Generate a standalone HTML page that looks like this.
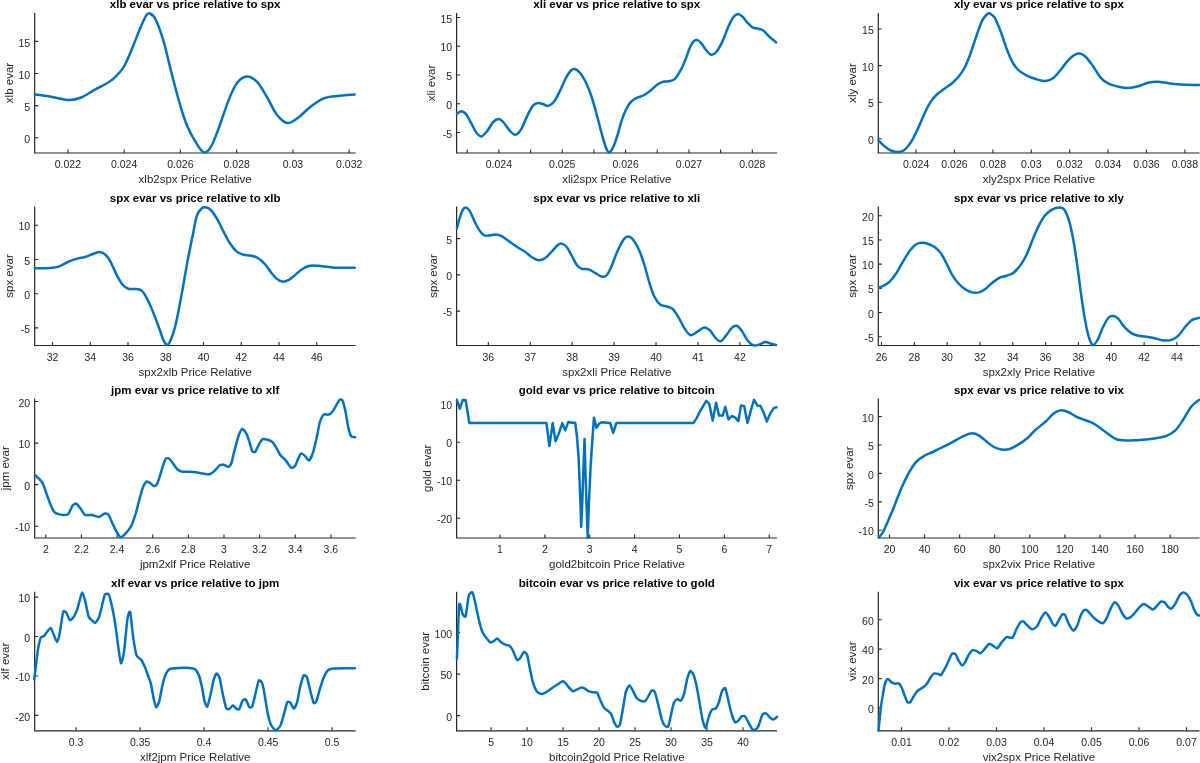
<!DOCTYPE html><html><head><meta charset="utf-8"><style>html,body{margin:0;padding:0;background:#fff;width:1200px;height:763px;overflow:hidden}svg{display:block;will-change:transform}text{font-family:"Liberation Sans",sans-serif}</style></head><body>
<svg width="1200" height="763" viewBox="0 0 1200 763">
<path d="M34.65,13.00 V153.00 H355.70" fill="none" stroke="#262626" stroke-width="1.2"/>
<path d="M67.90,153.00 v-3.5 M124.16,153.00 v-3.5 M180.42,153.00 v-3.5 M236.68,153.00 v-3.5 M292.94,153.00 v-3.5 M349.20,153.00 v-3.5 M34.65,137.70 h3.5 M34.65,105.60 h3.5 M34.65,73.50 h3.5 M34.65,41.40 h3.5 " stroke="#262626" stroke-width="1.1"/>
<text x="67.90" y="168.30" font-size="10.5" fill="#262626" text-anchor="middle">0.022</text>
<text x="124.16" y="168.30" font-size="10.5" fill="#262626" text-anchor="middle">0.024</text>
<text x="180.42" y="168.30" font-size="10.5" fill="#262626" text-anchor="middle">0.026</text>
<text x="236.68" y="168.30" font-size="10.5" fill="#262626" text-anchor="middle">0.028</text>
<text x="292.94" y="168.30" font-size="10.5" fill="#262626" text-anchor="middle">0.03</text>
<text x="349.20" y="168.30" font-size="10.5" fill="#262626" text-anchor="middle">0.032</text>
<text x="30.15" y="142.80" font-size="10.5" fill="#262626" text-anchor="end">0</text>
<text x="30.15" y="110.70" font-size="10.5" fill="#262626" text-anchor="end">5</text>
<text x="30.15" y="78.60" font-size="10.5" fill="#262626" text-anchor="end">10</text>
<text x="30.15" y="46.50" font-size="10.5" fill="#262626" text-anchor="end">15</text>
<text x="195.17" y="183.40" font-size="11.5" fill="#262626" text-anchor="middle">xlb2spx Price Relative</text>
<text transform="translate(12.75,83.00) rotate(-90)" font-size="11.5" fill="#262626" text-anchor="middle">xlb evar</text>
<path d="M34.90,94.50 C37.37,94.83 43.97,95.58 49.70,96.50 C55.43,97.42 64.07,99.83 69.30,100.00 C74.53,100.17 76.83,99.23 81.10,97.50 C85.37,95.77 90.32,92.13 94.90,89.60 C99.48,87.07 105.00,84.60 108.60,82.30 C112.20,80.00 113.88,78.52 116.50,75.80 C119.12,73.08 121.68,70.58 124.30,66.00 C126.92,61.42 129.58,54.52 132.20,48.30 C134.82,42.08 137.70,34.10 140.00,28.70 C142.30,23.30 144.35,18.43 146.00,15.90 C147.65,13.37 148.27,12.85 149.90,13.50 C151.53,14.15 153.52,15.15 155.80,19.80 C158.08,24.45 160.98,32.55 163.60,41.40 C166.22,50.25 168.87,62.73 171.50,72.90 C174.13,83.07 176.78,93.55 179.40,102.40 C182.02,111.25 184.12,118.80 187.20,126.00 C190.28,133.20 194.98,141.18 197.90,145.60 C200.82,150.02 202.42,152.50 204.70,152.50 C206.98,152.50 209.13,150.02 211.60,145.60 C214.07,141.18 216.55,133.87 219.50,126.00 C222.45,118.13 226.35,105.62 229.30,98.40 C232.25,91.18 234.25,86.37 237.20,82.70 C240.15,79.03 243.73,76.57 247.00,76.40 C250.27,76.23 253.52,78.35 256.80,81.70 C260.08,85.05 263.42,91.08 266.70,96.50 C269.98,101.92 273.07,109.78 276.50,114.20 C279.93,118.62 283.70,122.42 287.30,123.00 C290.90,123.58 294.33,120.32 298.10,117.70 C301.87,115.08 305.65,110.52 309.90,107.30 C314.15,104.08 319.02,100.30 323.60,98.40 C328.18,96.50 332.22,96.55 337.40,95.90 C342.58,95.25 351.82,94.73 354.70,94.50" fill="none" stroke="#0072BD" stroke-width="2.5" stroke-linejoin="round" stroke-linecap="round"/>
<text x="195.17" y="8.20" font-size="11.5" font-weight="bold" fill="#000" text-anchor="middle">xlb evar vs price relative to spx</text>
<path d="M456.60,13.00 V153.00 H777.00" fill="none" stroke="#262626" stroke-width="1.2"/>
<path d="M467.22,153.00 v-3.5 M498.90,153.00 v-3.5 M530.58,153.00 v-3.5 M562.25,153.00 v-3.5 M593.93,153.00 v-3.5 M625.60,153.00 v-3.5 M657.27,153.00 v-3.5 M688.95,153.00 v-3.5 M720.62,153.00 v-3.5 M752.30,153.00 v-3.5 M456.60,132.50 h3.5 M456.60,103.75 h3.5 M456.60,75.00 h3.5 M456.60,46.25 h3.5 M456.60,17.50 h3.5 " stroke="#262626" stroke-width="1.1"/>
<text x="498.90" y="168.30" font-size="10.5" fill="#262626" text-anchor="middle">0.024</text>
<text x="562.25" y="168.30" font-size="10.5" fill="#262626" text-anchor="middle">0.025</text>
<text x="625.60" y="168.30" font-size="10.5" fill="#262626" text-anchor="middle">0.026</text>
<text x="688.95" y="168.30" font-size="10.5" fill="#262626" text-anchor="middle">0.027</text>
<text x="752.30" y="168.30" font-size="10.5" fill="#262626" text-anchor="middle">0.028</text>
<text x="452.10" y="137.60" font-size="10.5" fill="#262626" text-anchor="end">-5</text>
<text x="452.10" y="108.85" font-size="10.5" fill="#262626" text-anchor="end">0</text>
<text x="452.10" y="80.10" font-size="10.5" fill="#262626" text-anchor="end">5</text>
<text x="452.10" y="51.35" font-size="10.5" fill="#262626" text-anchor="end">10</text>
<text x="452.10" y="22.60" font-size="10.5" fill="#262626" text-anchor="end">15</text>
<text x="616.80" y="183.40" font-size="11.5" fill="#262626" text-anchor="middle">xli2spx Price Relative</text>
<text transform="translate(434.70,83.00) rotate(-90)" font-size="11.5" fill="#262626" text-anchor="middle">xli evar</text>
<path d="M456.90,113.80 C457.72,113.37 460.17,110.98 461.80,111.20 C463.43,111.42 465.07,112.97 466.70,115.10 C468.33,117.23 469.97,121.05 471.60,124.00 C473.23,126.95 474.87,130.73 476.50,132.80 C478.13,134.87 479.60,136.72 481.40,136.40 C483.20,136.08 485.33,133.30 487.30,130.90 C489.27,128.50 491.23,123.97 493.20,122.00 C495.17,120.03 497.30,118.93 499.10,119.10 C500.90,119.27 502.20,121.03 504.00,123.00 C505.80,124.97 508.00,128.93 509.90,130.90 C511.80,132.87 513.58,134.97 515.40,134.80 C517.22,134.63 518.92,132.85 520.80,129.90 C522.68,126.95 524.75,121.03 526.70,117.10 C528.65,113.17 530.70,108.65 532.50,106.30 C534.30,103.95 535.68,103.33 537.50,103.00 C539.32,102.67 541.60,103.82 543.40,104.30 C545.20,104.78 546.50,106.38 548.30,105.90 C550.10,105.42 552.23,103.95 554.20,101.40 C556.17,98.85 558.13,94.53 560.10,90.60 C562.07,86.67 564.20,81.15 566.00,77.80 C567.80,74.45 569.43,71.97 570.90,70.50 C572.37,69.03 573.33,68.67 574.80,69.00 C576.27,69.33 577.90,70.38 579.70,72.50 C581.50,74.62 583.63,77.70 585.60,81.70 C587.57,85.70 589.53,90.60 591.50,96.50 C593.47,102.40 595.60,110.55 597.40,117.10 C599.20,123.65 600.82,130.55 602.30,135.80 C603.78,141.05 605.08,145.83 606.30,148.60 C607.52,151.37 608.33,152.90 609.60,152.40 C610.87,151.90 612.52,148.70 613.90,145.60 C615.28,142.50 616.58,138.05 617.90,133.80 C619.22,129.55 620.50,124.03 621.80,120.10 C623.10,116.17 624.38,112.98 625.70,110.20 C627.02,107.42 628.05,105.37 629.70,103.40 C631.35,101.43 633.32,99.72 635.60,98.40 C637.88,97.08 641.12,96.63 643.40,95.50 C645.68,94.37 647.00,93.40 649.30,91.60 C651.60,89.80 654.90,86.35 657.20,84.70 C659.50,83.05 661.13,82.27 663.10,81.70 C665.07,81.13 667.03,81.78 669.00,81.30 C670.97,80.82 672.93,80.70 674.90,78.80 C676.87,76.90 679.00,73.18 680.80,69.90 C682.60,66.62 684.23,62.70 685.70,59.10 C687.17,55.50 688.30,51.25 689.60,48.30 C690.90,45.35 692.18,42.77 693.50,41.40 C694.82,40.03 696.18,39.77 697.50,40.10 C698.82,40.43 699.93,41.70 701.40,43.40 C702.87,45.10 704.67,48.40 706.30,50.30 C707.93,52.20 709.57,54.47 711.20,54.80 C712.83,55.13 714.30,54.37 716.10,52.30 C717.90,50.23 720.03,46.50 722.00,42.40 C723.97,38.30 726.10,31.78 727.90,27.70 C729.70,23.62 731.15,20.20 732.80,17.90 C734.45,15.60 736.15,14.07 737.80,13.90 C739.45,13.73 741.07,15.42 742.70,16.90 C744.33,18.38 745.97,21.07 747.60,22.80 C749.23,24.53 750.70,26.32 752.50,27.30 C754.30,28.28 756.60,28.15 758.40,28.70 C760.20,29.25 761.50,29.30 763.30,30.60 C765.10,31.90 767.07,34.53 769.20,36.50 C771.33,38.47 774.95,41.42 776.10,42.40" fill="none" stroke="#0072BD" stroke-width="2.5" stroke-linejoin="round" stroke-linecap="round"/>
<text x="616.80" y="8.20" font-size="11.5" font-weight="bold" fill="#000" text-anchor="middle">xli evar vs price relative to spx</text>
<path d="M878.30,13.00 V153.00 H1199.50" fill="none" stroke="#262626" stroke-width="1.2"/>
<path d="M916.10,153.00 v-3.5 M954.50,153.00 v-3.5 M992.90,153.00 v-3.5 M1031.30,153.00 v-3.5 M1069.70,153.00 v-3.5 M1108.10,153.00 v-3.5 M1146.50,153.00 v-3.5 M1184.90,153.00 v-3.5 M878.30,138.80 h3.5 M878.30,102.20 h3.5 M878.30,65.60 h3.5 M878.30,29.00 h3.5 " stroke="#262626" stroke-width="1.1"/>
<text x="916.10" y="168.30" font-size="10.5" fill="#262626" text-anchor="middle">0.024</text>
<text x="954.50" y="168.30" font-size="10.5" fill="#262626" text-anchor="middle">0.026</text>
<text x="992.90" y="168.30" font-size="10.5" fill="#262626" text-anchor="middle">0.028</text>
<text x="1031.30" y="168.30" font-size="10.5" fill="#262626" text-anchor="middle">0.03</text>
<text x="1069.70" y="168.30" font-size="10.5" fill="#262626" text-anchor="middle">0.032</text>
<text x="1108.10" y="168.30" font-size="10.5" fill="#262626" text-anchor="middle">0.034</text>
<text x="1146.50" y="168.30" font-size="10.5" fill="#262626" text-anchor="middle">0.036</text>
<text x="1184.90" y="168.30" font-size="10.5" fill="#262626" text-anchor="middle">0.038</text>
<text x="873.80" y="143.90" font-size="10.5" fill="#262626" text-anchor="end">0</text>
<text x="873.80" y="107.30" font-size="10.5" fill="#262626" text-anchor="end">5</text>
<text x="873.80" y="70.70" font-size="10.5" fill="#262626" text-anchor="end">10</text>
<text x="873.80" y="34.10" font-size="10.5" fill="#262626" text-anchor="end">15</text>
<text x="1038.90" y="183.40" font-size="11.5" fill="#262626" text-anchor="middle">xly2spx Price Relative</text>
<text transform="translate(856.40,83.00) rotate(-90)" font-size="11.5" fill="#262626" text-anchor="middle">xly evar</text>
<path d="M878.50,140.30 C879.38,141.18 881.77,143.90 883.80,145.60 C885.83,147.30 888.40,149.42 890.70,150.50 C893.00,151.58 895.32,152.20 897.60,152.10 C899.88,152.00 902.12,151.63 904.40,149.90 C906.68,148.17 909.00,145.37 911.30,141.70 C913.60,138.03 915.90,132.82 918.20,127.90 C920.50,122.98 922.97,116.62 925.10,112.20 C927.23,107.78 929.03,104.35 931.00,101.40 C932.97,98.45 934.62,96.63 936.90,94.50 C939.18,92.37 942.08,90.57 944.70,88.60 C947.32,86.63 950.30,84.67 952.60,82.70 C954.90,80.73 956.53,79.25 958.50,76.80 C960.47,74.35 962.43,71.77 964.40,68.00 C966.37,64.23 968.33,59.45 970.30,54.20 C972.27,48.95 974.23,42.07 976.20,36.50 C978.17,30.93 980.30,24.50 982.10,20.80 C983.90,17.10 985.70,15.52 987.00,14.30 C988.30,13.08 988.60,12.90 989.90,13.50 C991.20,14.10 993.00,14.88 994.80,17.90 C996.60,20.92 998.57,26.03 1000.70,31.60 C1002.83,37.17 1005.47,45.90 1007.60,51.30 C1009.73,56.70 1011.53,60.73 1013.50,64.00 C1015.47,67.27 1017.10,68.93 1019.40,70.90 C1021.70,72.87 1024.68,74.48 1027.30,75.80 C1029.92,77.12 1032.03,77.92 1035.10,78.80 C1038.17,79.68 1042.62,81.27 1045.70,81.10 C1048.78,80.93 1050.98,79.82 1053.60,77.80 C1056.22,75.78 1058.78,72.12 1061.40,69.00 C1064.02,65.88 1066.50,61.67 1069.30,59.10 C1072.10,56.53 1075.58,54.08 1078.20,53.60 C1080.82,53.12 1082.55,54.13 1085.00,56.20 C1087.45,58.27 1090.27,62.40 1092.90,66.00 C1095.53,69.60 1098.18,74.85 1100.80,77.80 C1103.42,80.75 1105.67,82.22 1108.60,83.70 C1111.53,85.18 1115.12,85.98 1118.40,86.70 C1121.68,87.42 1125.02,88.07 1128.30,88.00 C1131.58,87.93 1134.83,87.18 1138.10,86.30 C1141.37,85.42 1144.62,83.47 1147.90,82.70 C1151.18,81.93 1154.52,81.63 1157.80,81.70 C1161.08,81.77 1164.33,82.67 1167.60,83.10 C1170.87,83.53 1174.13,84.03 1177.40,84.30 C1180.67,84.57 1183.60,84.60 1187.20,84.70 C1190.80,84.80 1197.03,84.87 1199.00,84.90" fill="none" stroke="#0072BD" stroke-width="2.5" stroke-linejoin="round" stroke-linecap="round"/>
<text x="1038.90" y="8.20" font-size="11.5" font-weight="bold" fill="#000" text-anchor="middle">xly evar vs price relative to spx</text>
<path d="M34.65,206.50 V345.50 H355.70" fill="none" stroke="#262626" stroke-width="1.2"/>
<path d="M52.50,345.50 v-3.5 M90.25,345.50 v-3.5 M128.00,345.50 v-3.5 M165.75,345.50 v-3.5 M203.50,345.50 v-3.5 M241.25,345.50 v-3.5 M279.00,345.50 v-3.5 M316.75,345.50 v-3.5 M34.65,327.90 h3.5 M34.65,293.68 h3.5 M34.65,259.47 h3.5 M34.65,225.25 h3.5 " stroke="#262626" stroke-width="1.1"/>
<text x="52.50" y="360.80" font-size="10.5" fill="#262626" text-anchor="middle">32</text>
<text x="90.25" y="360.80" font-size="10.5" fill="#262626" text-anchor="middle">34</text>
<text x="128.00" y="360.80" font-size="10.5" fill="#262626" text-anchor="middle">36</text>
<text x="165.75" y="360.80" font-size="10.5" fill="#262626" text-anchor="middle">38</text>
<text x="203.50" y="360.80" font-size="10.5" fill="#262626" text-anchor="middle">40</text>
<text x="241.25" y="360.80" font-size="10.5" fill="#262626" text-anchor="middle">42</text>
<text x="279.00" y="360.80" font-size="10.5" fill="#262626" text-anchor="middle">44</text>
<text x="316.75" y="360.80" font-size="10.5" fill="#262626" text-anchor="middle">46</text>
<text x="30.15" y="333.00" font-size="10.5" fill="#262626" text-anchor="end">-5</text>
<text x="30.15" y="298.78" font-size="10.5" fill="#262626" text-anchor="end">0</text>
<text x="30.15" y="264.57" font-size="10.5" fill="#262626" text-anchor="end">5</text>
<text x="30.15" y="230.35" font-size="10.5" fill="#262626" text-anchor="end">10</text>
<text x="195.17" y="375.90" font-size="11.5" fill="#262626" text-anchor="middle">spx2xlb Price Relative</text>
<text transform="translate(12.75,276.00) rotate(-90)" font-size="11.5" fill="#262626" text-anchor="middle">spx evar</text>
<path d="M34.90,268.20 C36.38,268.20 40.85,268.27 43.80,268.20 C46.75,268.13 49.82,268.20 52.60,267.80 C55.38,267.40 57.72,266.88 60.50,265.80 C63.28,264.72 66.52,262.50 69.30,261.30 C72.08,260.10 74.58,259.32 77.20,258.60 C79.82,257.88 82.38,257.77 85.00,257.00 C87.62,256.23 90.43,254.82 92.90,254.00 C95.37,253.18 97.67,251.93 99.80,252.10 C101.93,252.27 103.90,253.37 105.70,255.00 C107.50,256.63 108.80,258.62 110.60,261.90 C112.40,265.18 114.53,270.93 116.50,274.70 C118.47,278.47 120.43,282.15 122.40,284.50 C124.37,286.85 126.02,288.05 128.30,288.80 C130.58,289.55 133.82,288.67 136.10,289.00 C138.38,289.33 140.03,288.93 142.00,290.80 C143.97,292.67 145.93,296.35 147.90,300.20 C149.87,304.05 151.83,308.98 153.80,313.90 C155.77,318.82 158.07,325.27 159.70,329.70 C161.33,334.13 162.38,337.95 163.60,340.50 C164.82,343.05 165.85,345.00 167.00,345.00 C168.15,345.00 169.10,343.70 170.50,340.50 C171.90,337.30 173.60,333.17 175.40,325.80 C177.20,318.43 179.33,306.78 181.30,296.30 C183.27,285.82 185.23,273.38 187.20,262.90 C189.17,252.42 191.48,241.27 193.10,233.40 C194.72,225.53 195.45,219.88 196.90,215.70 C198.35,211.52 200.17,209.67 201.80,208.30 C203.43,206.93 205.07,207.08 206.70,207.50 C208.33,207.92 209.80,208.77 211.60,210.80 C213.40,212.83 215.53,216.27 217.50,219.70 C219.47,223.13 221.43,227.63 223.40,231.40 C225.37,235.17 227.17,239.02 229.30,242.30 C231.43,245.58 233.90,249.05 236.20,251.10 C238.50,253.15 240.65,253.85 243.10,254.60 C245.55,255.35 248.45,255.03 250.90,255.60 C253.35,256.17 255.50,256.62 257.80,258.00 C260.10,259.38 262.57,261.62 264.70,263.90 C266.83,266.18 268.63,269.25 270.60,271.70 C272.57,274.15 274.53,276.95 276.50,278.60 C278.47,280.25 280.43,281.33 282.40,281.60 C284.37,281.87 286.33,281.18 288.30,280.20 C290.27,279.22 291.92,277.53 294.20,275.70 C296.48,273.87 299.38,270.85 302.00,269.20 C304.62,267.55 307.27,266.37 309.90,265.80 C312.53,265.23 314.85,265.63 317.80,265.80 C320.75,265.97 324.33,266.47 327.60,266.80 C330.87,267.13 334.13,267.63 337.40,267.80 C340.67,267.97 344.32,267.80 347.20,267.80 C350.08,267.80 353.45,267.80 354.70,267.80" fill="none" stroke="#0072BD" stroke-width="2.5" stroke-linejoin="round" stroke-linecap="round"/>
<text x="195.17" y="201.70" font-size="11.5" font-weight="bold" fill="#000" text-anchor="middle">spx evar vs price relative to xlb</text>
<path d="M456.60,206.50 V345.50 H777.00" fill="none" stroke="#262626" stroke-width="1.2"/>
<path d="M488.30,345.50 v-3.5 M530.23,345.50 v-3.5 M572.17,345.50 v-3.5 M614.10,345.50 v-3.5 M656.03,345.50 v-3.5 M697.97,345.50 v-3.5 M739.90,345.50 v-3.5 M456.60,311.10 h3.5 M456.60,274.88 h3.5 M456.60,238.65 h3.5 " stroke="#262626" stroke-width="1.1"/>
<text x="488.30" y="360.80" font-size="10.5" fill="#262626" text-anchor="middle">36</text>
<text x="530.23" y="360.80" font-size="10.5" fill="#262626" text-anchor="middle">37</text>
<text x="572.17" y="360.80" font-size="10.5" fill="#262626" text-anchor="middle">38</text>
<text x="614.10" y="360.80" font-size="10.5" fill="#262626" text-anchor="middle">39</text>
<text x="656.03" y="360.80" font-size="10.5" fill="#262626" text-anchor="middle">40</text>
<text x="697.97" y="360.80" font-size="10.5" fill="#262626" text-anchor="middle">41</text>
<text x="739.90" y="360.80" font-size="10.5" fill="#262626" text-anchor="middle">42</text>
<text x="452.10" y="316.20" font-size="10.5" fill="#262626" text-anchor="end">-5</text>
<text x="452.10" y="279.98" font-size="10.5" fill="#262626" text-anchor="end">0</text>
<text x="452.10" y="243.75" font-size="10.5" fill="#262626" text-anchor="end">5</text>
<text x="616.80" y="375.90" font-size="11.5" fill="#262626" text-anchor="middle">spx2xli Price Relative</text>
<text transform="translate(437.04,276.00) rotate(-90)" font-size="11.5" fill="#262626" text-anchor="middle">spx evar</text>
<path d="M456.90,228.50 C457.38,226.70 458.82,220.82 459.80,217.70 C460.78,214.58 461.82,211.50 462.80,209.80 C463.78,208.10 464.55,207.33 465.70,207.50 C466.85,207.67 468.22,208.45 469.70,210.80 C471.18,213.15 472.97,218.32 474.60,221.60 C476.23,224.88 477.87,228.20 479.50,230.50 C481.13,232.80 482.77,234.58 484.40,235.40 C486.03,236.22 487.33,235.57 489.30,235.40 C491.27,235.23 494.07,234.23 496.20,234.40 C498.33,234.57 499.97,235.25 502.10,236.40 C504.23,237.55 506.55,239.57 509.00,241.30 C511.45,243.03 514.18,245.10 516.80,246.80 C519.42,248.50 522.23,249.80 524.70,251.50 C527.17,253.20 529.32,255.53 531.60,257.00 C533.88,258.47 536.12,260.13 538.40,260.30 C540.68,260.47 543.00,259.53 545.30,258.00 C547.60,256.47 550.07,253.30 552.20,251.10 C554.33,248.90 556.47,246.05 558.10,244.80 C559.73,243.55 560.53,243.20 562.00,243.60 C563.47,244.00 565.25,245.13 566.90,247.20 C568.55,249.27 570.25,253.05 571.90,256.00 C573.55,258.95 575.17,262.77 576.80,264.90 C578.43,267.03 579.73,268.05 581.70,268.80 C583.67,269.55 586.32,268.68 588.60,269.40 C590.88,270.12 593.12,271.88 595.40,273.10 C597.68,274.32 600.33,276.43 602.30,276.70 C604.27,276.97 605.57,276.67 607.20,274.70 C608.83,272.73 610.45,268.67 612.10,264.90 C613.75,261.13 615.15,256.37 617.10,252.10 C619.05,247.83 621.87,241.92 623.80,239.30 C625.73,236.68 627.07,236.23 628.70,236.40 C630.33,236.57 631.80,237.85 633.60,240.30 C635.40,242.75 637.70,247.00 639.50,251.10 C641.30,255.20 642.77,259.67 644.40,264.90 C646.03,270.13 647.67,277.27 649.30,282.50 C650.93,287.73 652.40,292.62 654.20,296.30 C656.00,299.98 657.97,302.90 660.10,304.60 C662.23,306.30 664.87,305.75 667.00,306.50 C669.13,307.25 670.93,307.20 672.90,309.10 C674.87,311.00 676.83,314.63 678.80,317.90 C680.77,321.17 682.73,325.82 684.70,328.70 C686.67,331.58 688.47,334.70 690.60,335.20 C692.73,335.70 695.22,333.00 697.50,331.70 C699.78,330.40 702.18,327.57 704.30,327.40 C706.42,327.23 708.23,328.83 710.20,330.70 C712.17,332.57 714.30,336.87 716.10,338.60 C717.90,340.33 719.35,341.60 721.00,341.10 C722.65,340.60 724.18,337.82 726.00,335.60 C727.82,333.38 730.10,329.43 731.90,327.80 C733.70,326.17 735.17,325.32 736.80,325.80 C738.43,326.28 739.90,328.25 741.70,330.70 C743.50,333.15 745.63,338.05 747.60,340.50 C749.57,342.95 751.53,344.73 753.50,345.40 C755.47,346.07 757.43,345.08 759.40,344.50 C761.37,343.92 763.50,342.07 765.30,341.90 C767.10,341.73 768.40,342.98 770.20,343.50 C772.00,344.02 775.12,344.75 776.10,345.00" fill="none" stroke="#0072BD" stroke-width="2.5" stroke-linejoin="round" stroke-linecap="round"/>
<text x="616.80" y="201.70" font-size="11.5" font-weight="bold" fill="#000" text-anchor="middle">spx evar vs price relative to xli</text>
<path d="M878.30,206.50 V345.50 H1199.50" fill="none" stroke="#262626" stroke-width="1.2"/>
<path d="M881.50,345.50 v-3.5 M914.32,345.50 v-3.5 M947.14,345.50 v-3.5 M979.97,345.50 v-3.5 M1012.79,345.50 v-3.5 M1045.61,345.50 v-3.5 M1078.43,345.50 v-3.5 M1111.26,345.50 v-3.5 M1144.08,345.50 v-3.5 M1176.90,345.50 v-3.5 M878.30,336.70 h3.5 M878.30,312.52 h3.5 M878.30,288.34 h3.5 M878.30,264.16 h3.5 M878.30,239.98 h3.5 M878.30,215.80 h3.5 " stroke="#262626" stroke-width="1.1"/>
<text x="881.50" y="360.80" font-size="10.5" fill="#262626" text-anchor="middle">26</text>
<text x="914.32" y="360.80" font-size="10.5" fill="#262626" text-anchor="middle">28</text>
<text x="947.14" y="360.80" font-size="10.5" fill="#262626" text-anchor="middle">30</text>
<text x="979.97" y="360.80" font-size="10.5" fill="#262626" text-anchor="middle">32</text>
<text x="1012.79" y="360.80" font-size="10.5" fill="#262626" text-anchor="middle">34</text>
<text x="1045.61" y="360.80" font-size="10.5" fill="#262626" text-anchor="middle">36</text>
<text x="1078.43" y="360.80" font-size="10.5" fill="#262626" text-anchor="middle">38</text>
<text x="1111.26" y="360.80" font-size="10.5" fill="#262626" text-anchor="middle">40</text>
<text x="1144.08" y="360.80" font-size="10.5" fill="#262626" text-anchor="middle">42</text>
<text x="1176.90" y="360.80" font-size="10.5" fill="#262626" text-anchor="middle">44</text>
<text x="873.80" y="341.80" font-size="10.5" fill="#262626" text-anchor="end">-5</text>
<text x="873.80" y="317.62" font-size="10.5" fill="#262626" text-anchor="end">0</text>
<text x="873.80" y="293.44" font-size="10.5" fill="#262626" text-anchor="end">5</text>
<text x="873.80" y="269.26" font-size="10.5" fill="#262626" text-anchor="end">10</text>
<text x="873.80" y="245.08" font-size="10.5" fill="#262626" text-anchor="end">15</text>
<text x="873.80" y="220.90" font-size="10.5" fill="#262626" text-anchor="end">20</text>
<text x="1038.90" y="375.90" font-size="11.5" fill="#262626" text-anchor="middle">spx2xly Price Relative</text>
<text transform="translate(856.40,276.00) rotate(-90)" font-size="11.5" fill="#262626" text-anchor="middle">spx evar</text>
<path d="M878.90,287.90 C879.72,287.50 882.00,286.55 883.80,285.50 C885.60,284.45 887.57,283.73 889.70,281.60 C891.83,279.47 894.32,276.15 896.60,272.70 C898.88,269.25 901.12,264.67 903.40,260.90 C905.68,257.13 908.17,252.88 910.30,250.10 C912.43,247.32 914.23,245.42 916.20,244.20 C918.17,242.98 919.97,242.80 922.10,242.80 C924.23,242.80 926.87,243.47 929.00,244.20 C931.13,244.93 932.93,245.72 934.90,247.20 C936.87,248.68 938.83,250.32 940.80,253.10 C942.77,255.88 944.73,260.13 946.70,263.90 C948.67,267.67 950.63,272.43 952.60,275.70 C954.57,278.97 956.37,281.22 958.50,283.50 C960.63,285.78 963.12,287.92 965.40,289.40 C967.68,290.88 969.92,291.90 972.20,292.40 C974.48,292.90 976.80,293.07 979.10,292.40 C981.40,291.73 983.70,290.10 986.00,288.40 C988.30,286.70 990.60,284.00 992.90,282.20 C995.20,280.40 997.52,278.68 999.80,277.60 C1002.08,276.52 1004.32,276.52 1006.60,275.70 C1008.88,274.88 1011.03,274.67 1013.50,272.70 C1015.97,270.73 1019.10,267.17 1021.40,263.90 C1023.70,260.63 1025.28,257.50 1027.30,253.10 C1029.32,248.70 1031.58,242.08 1033.50,237.50 C1035.42,232.92 1036.93,229.23 1038.80,225.60 C1040.67,221.97 1042.57,218.33 1044.70,215.70 C1046.83,213.07 1049.13,211.17 1051.60,209.80 C1054.07,208.43 1057.37,207.50 1059.50,207.50 C1061.63,207.50 1062.77,207.45 1064.40,209.80 C1066.03,212.15 1067.83,216.68 1069.30,221.60 C1070.77,226.52 1071.88,232.08 1073.20,239.30 C1074.52,246.52 1075.88,255.73 1077.20,264.90 C1078.52,274.07 1079.80,285.13 1081.10,294.30 C1082.40,303.47 1083.68,312.68 1085.00,319.90 C1086.32,327.12 1087.68,333.42 1089.00,337.60 C1090.32,341.78 1091.43,344.68 1092.90,345.00 C1094.37,345.32 1096.17,342.37 1097.80,339.50 C1099.43,336.63 1100.90,331.47 1102.70,327.80 C1104.50,324.13 1106.80,319.47 1108.60,317.50 C1110.40,315.53 1111.87,315.77 1113.50,316.00 C1115.13,316.23 1116.60,317.10 1118.40,318.90 C1120.20,320.70 1122.00,324.35 1124.30,326.80 C1126.60,329.25 1129.57,332.07 1132.20,333.60 C1134.83,335.13 1137.48,335.43 1140.10,336.00 C1142.72,336.57 1145.28,336.57 1147.90,337.00 C1150.52,337.43 1153.18,338.02 1155.80,338.60 C1158.42,339.18 1160.98,340.28 1163.60,340.50 C1166.22,340.72 1169.03,340.72 1171.50,339.90 C1173.97,339.08 1176.10,337.78 1178.40,335.60 C1180.70,333.42 1183.02,329.42 1185.30,326.80 C1187.58,324.18 1189.82,321.38 1192.10,319.90 C1194.38,318.42 1197.85,318.23 1199.00,317.90" fill="none" stroke="#0072BD" stroke-width="2.5" stroke-linejoin="round" stroke-linecap="round"/>
<text x="1038.90" y="201.70" font-size="11.5" font-weight="bold" fill="#000" text-anchor="middle">spx evar vs price relative to xly</text>
<path d="M34.65,398.50 V538.00 H355.70" fill="none" stroke="#262626" stroke-width="1.2"/>
<path d="M45.80,538.00 v-3.5 M81.44,538.00 v-3.5 M117.07,538.00 v-3.5 M152.71,538.00 v-3.5 M188.35,538.00 v-3.5 M223.99,538.00 v-3.5 M259.62,538.00 v-3.5 M295.26,538.00 v-3.5 M330.90,538.00 v-3.5 M34.65,526.25 h3.5 M34.65,484.67 h3.5 M34.65,443.08 h3.5 M34.65,401.50 h3.5 " stroke="#262626" stroke-width="1.1"/>
<text x="45.80" y="553.30" font-size="10.5" fill="#262626" text-anchor="middle">2</text>
<text x="81.44" y="553.30" font-size="10.5" fill="#262626" text-anchor="middle">2.2</text>
<text x="117.07" y="553.30" font-size="10.5" fill="#262626" text-anchor="middle">2.4</text>
<text x="152.71" y="553.30" font-size="10.5" fill="#262626" text-anchor="middle">2.6</text>
<text x="188.35" y="553.30" font-size="10.5" fill="#262626" text-anchor="middle">2.8</text>
<text x="223.99" y="553.30" font-size="10.5" fill="#262626" text-anchor="middle">3</text>
<text x="259.62" y="553.30" font-size="10.5" fill="#262626" text-anchor="middle">3.2</text>
<text x="295.26" y="553.30" font-size="10.5" fill="#262626" text-anchor="middle">3.4</text>
<text x="330.90" y="553.30" font-size="10.5" fill="#262626" text-anchor="middle">3.6</text>
<text x="30.15" y="531.35" font-size="10.5" fill="#262626" text-anchor="end">-10</text>
<text x="30.15" y="489.77" font-size="10.5" fill="#262626" text-anchor="end">0</text>
<text x="30.15" y="448.18" font-size="10.5" fill="#262626" text-anchor="end">10</text>
<text x="30.15" y="406.60" font-size="10.5" fill="#262626" text-anchor="end">20</text>
<text x="195.17" y="568.40" font-size="11.5" fill="#262626" text-anchor="middle">jpm2xlf Price Relative</text>
<text transform="translate(9.25,468.25) rotate(-90)" font-size="11.5" fill="#262626" text-anchor="middle">jpm evar</text>
<path d="M34.90,475.00 C35.30,475.36 38.11,477.75 38.90,478.60 C39.69,479.45 42.02,481.93 42.80,483.50 C43.58,485.07 45.91,492.14 46.70,494.30 C47.49,496.46 49.91,503.29 50.70,505.10 C51.49,506.91 53.72,511.47 54.60,512.40 C55.48,513.33 58.52,514.14 59.50,514.40 C60.48,514.66 63.51,515.04 64.40,515.00 C65.29,514.96 67.61,514.89 68.40,514.00 C69.19,513.11 71.52,507.15 72.30,506.10 C73.08,505.05 75.41,503.30 76.20,503.50 C76.99,503.70 79.31,506.95 80.20,508.10 C81.09,509.25 83.92,514.31 85.10,515.00 C86.28,515.69 90.62,514.81 92.00,515.00 C93.38,515.19 97.62,517.04 98.90,516.90 C100.18,516.76 103.82,513.79 104.80,513.60 C105.78,513.41 107.92,513.98 108.70,515.00 C109.48,516.02 111.81,522.13 112.60,523.80 C113.39,525.47 115.81,530.36 116.60,531.70 C117.39,533.04 119.62,537.01 120.50,537.20 C121.38,537.39 124.32,534.74 125.40,533.60 C126.48,532.46 130.22,527.96 131.30,525.80 C132.38,523.64 135.31,514.95 136.20,512.00 C137.09,509.05 139.47,498.90 140.20,496.30 C140.93,493.70 142.83,487.48 143.50,486.00 C144.17,484.52 146.17,481.75 146.90,481.50 C147.63,481.25 150.11,483.05 150.80,483.50 C151.49,483.95 153.21,485.90 153.80,486.00 C154.39,486.10 156.11,485.44 156.70,484.50 C157.29,483.56 159.11,478.37 159.70,476.60 C160.29,474.83 162.01,468.57 162.60,466.80 C163.19,465.03 164.95,459.73 165.60,458.90 C166.25,458.07 168.41,458.11 169.10,458.50 C169.79,458.89 171.67,461.72 172.50,462.80 C173.33,463.88 176.42,468.41 177.40,469.30 C178.38,470.19 181.12,471.46 182.30,471.70 C183.48,471.94 187.82,471.64 189.20,471.70 C190.58,471.76 194.72,472.11 196.10,472.30 C197.48,472.49 201.63,473.41 203.00,473.60 C204.37,473.79 208.62,474.49 209.80,474.20 C210.98,473.91 213.81,471.60 214.80,470.70 C215.79,469.80 218.82,465.79 219.70,465.20 C220.58,464.61 222.72,464.64 223.60,464.80 C224.48,464.96 227.71,467.00 228.50,466.80 C229.29,466.60 230.91,464.38 231.50,462.80 C232.09,461.22 233.71,453.65 234.40,451.00 C235.09,448.35 237.61,438.50 238.40,436.30 C239.19,434.10 241.52,429.30 242.30,429.00 C243.08,428.70 245.51,432.08 246.20,433.30 C246.89,434.52 248.59,439.40 249.20,441.20 C249.81,443.00 251.67,450.27 252.30,451.30 C252.93,452.33 254.85,452.16 255.50,451.50 C256.15,450.84 258.08,445.93 258.80,444.70 C259.52,443.47 261.82,439.69 262.70,439.20 C263.58,438.71 266.62,439.50 267.60,439.80 C268.58,440.10 271.61,441.37 272.50,442.20 C273.39,443.03 275.71,446.79 276.50,448.10 C277.29,449.41 279.52,454.12 280.40,455.30 C281.28,456.48 284.22,458.66 285.30,459.90 C286.38,461.14 290.21,467.11 291.20,467.70 C292.19,468.29 294.51,466.68 295.20,465.80 C295.89,464.92 297.51,460.14 298.10,458.90 C298.69,457.66 300.41,453.70 301.10,453.40 C301.79,453.10 304.22,455.19 305.00,455.90 C305.78,456.61 308.11,460.79 308.90,460.50 C309.69,460.21 312.11,455.33 312.90,453.00 C313.69,450.67 316.11,440.25 316.80,437.20 C317.49,434.15 319.11,424.76 319.80,422.50 C320.49,420.24 322.82,415.39 323.70,414.60 C324.58,413.81 327.72,414.89 328.60,414.60 C329.48,414.31 331.71,412.68 332.50,411.70 C333.29,410.72 335.81,405.98 336.50,404.80 C337.19,403.62 338.81,400.35 339.40,399.90 C339.99,399.45 341.81,399.22 342.40,400.30 C342.99,401.38 344.71,407.99 345.30,410.70 C345.89,413.41 347.71,424.84 348.30,427.40 C348.89,429.96 350.51,435.32 351.20,436.30 C351.89,437.28 354.80,437.11 355.20,437.20" fill="none" stroke="#0072BD" stroke-width="2.5" stroke-linejoin="round" stroke-linecap="round"/>
<text x="195.17" y="393.70" font-size="11.5" font-weight="bold" fill="#000" text-anchor="middle">jpm evar vs price relative to xlf</text>
<path d="M456.60,398.50 V538.00 H777.00" fill="none" stroke="#262626" stroke-width="1.2"/>
<path d="M500.00,538.00 v-3.5 M544.87,538.00 v-3.5 M589.73,538.00 v-3.5 M634.60,538.00 v-3.5 M679.47,538.00 v-3.5 M724.33,538.00 v-3.5 M769.20,538.00 v-3.5 M456.60,518.30 h3.5 M456.60,480.27 h3.5 M456.60,442.23 h3.5 M456.60,404.20 h3.5 " stroke="#262626" stroke-width="1.1"/>
<text x="500.00" y="553.30" font-size="10.5" fill="#262626" text-anchor="middle">1</text>
<text x="544.87" y="553.30" font-size="10.5" fill="#262626" text-anchor="middle">2</text>
<text x="589.73" y="553.30" font-size="10.5" fill="#262626" text-anchor="middle">3</text>
<text x="634.60" y="553.30" font-size="10.5" fill="#262626" text-anchor="middle">4</text>
<text x="679.47" y="553.30" font-size="10.5" fill="#262626" text-anchor="middle">5</text>
<text x="724.33" y="553.30" font-size="10.5" fill="#262626" text-anchor="middle">6</text>
<text x="769.20" y="553.30" font-size="10.5" fill="#262626" text-anchor="middle">7</text>
<text x="452.10" y="523.40" font-size="10.5" fill="#262626" text-anchor="end">-20</text>
<text x="452.10" y="485.37" font-size="10.5" fill="#262626" text-anchor="end">-10</text>
<text x="452.10" y="447.33" font-size="10.5" fill="#262626" text-anchor="end">0</text>
<text x="452.10" y="409.30" font-size="10.5" fill="#262626" text-anchor="end">10</text>
<text x="616.80" y="568.40" font-size="11.5" fill="#262626" text-anchor="middle">gold2bitcoin Price Relative</text>
<text transform="translate(431.20,468.25) rotate(-90)" font-size="11.5" fill="#262626" text-anchor="middle">gold evar</text>
<path d="M456.90,400.30 L459.80,408.70 L462.80,399.90 L465.70,400.30 L469.30,422.90 L546.40,422.90 L549.40,446.10 L552.70,423.10 L555.50,441.20 L558.90,433.30 L562.30,423.10 L565.20,430.40 L568.40,421.90 L571.80,422.80 L575.20,422.80 L576.90,435.60 L578.60,457.70 L580.30,498.60 L581.20,526.70 L582.40,498.60 L583.70,461.10 L584.60,439.00 L585.40,469.60 L586.80,512.20 L587.70,537.80 L588.90,503.70 L590.60,466.20 L592.30,440.70 L594.00,417.70 L596.50,427.90 L599.10,423.60 L601.60,422.30 L610.10,422.90 L613.20,432.90 L616.40,422.90 L693.40,422.90 L696.40,418.60 L699.30,412.70 L703.30,405.80 L706.20,400.90 L709.20,403.80 L712.70,420.50 L716.10,402.80 L719.00,415.60 L722.60,415.60 L725.30,406.80 L728.50,419.50 L731.80,416.00 L735.20,417.60 L738.30,421.10 L741.10,405.40 L744.20,406.20 L747.50,422.90 L750.50,411.70 L754.00,399.90 L757.40,405.40 L760.30,405.80 L763.30,411.70 L766.80,421.50 L770.20,413.60 L773.70,408.10 L776.50,407.30" fill="none" stroke="#0072BD" stroke-width="2.5" stroke-linejoin="round" stroke-linecap="round"/>
<text x="616.80" y="393.70" font-size="11.5" font-weight="bold" fill="#000" text-anchor="middle">gold evar vs price relative to bitcoin</text>
<path d="M878.30,398.50 V538.00 H1199.50" fill="none" stroke="#262626" stroke-width="1.2"/>
<path d="M889.50,538.00 v-3.5 M924.58,538.00 v-3.5 M959.65,538.00 v-3.5 M994.72,538.00 v-3.5 M1029.80,538.00 v-3.5 M1064.88,538.00 v-3.5 M1099.95,538.00 v-3.5 M1135.02,538.00 v-3.5 M1170.10,538.00 v-3.5 M878.30,530.30 h3.5 M878.30,501.85 h3.5 M878.30,473.40 h3.5 M878.30,444.95 h3.5 M878.30,416.50 h3.5 " stroke="#262626" stroke-width="1.1"/>
<text x="889.50" y="553.30" font-size="10.5" fill="#262626" text-anchor="middle">20</text>
<text x="924.58" y="553.30" font-size="10.5" fill="#262626" text-anchor="middle">40</text>
<text x="959.65" y="553.30" font-size="10.5" fill="#262626" text-anchor="middle">60</text>
<text x="994.72" y="553.30" font-size="10.5" fill="#262626" text-anchor="middle">80</text>
<text x="1029.80" y="553.30" font-size="10.5" fill="#262626" text-anchor="middle">100</text>
<text x="1064.88" y="553.30" font-size="10.5" fill="#262626" text-anchor="middle">120</text>
<text x="1099.95" y="553.30" font-size="10.5" fill="#262626" text-anchor="middle">140</text>
<text x="1135.02" y="553.30" font-size="10.5" fill="#262626" text-anchor="middle">160</text>
<text x="1170.10" y="553.30" font-size="10.5" fill="#262626" text-anchor="middle">180</text>
<text x="873.80" y="535.40" font-size="10.5" fill="#262626" text-anchor="end">-10</text>
<text x="873.80" y="506.95" font-size="10.5" fill="#262626" text-anchor="end">-5</text>
<text x="873.80" y="478.50" font-size="10.5" fill="#262626" text-anchor="end">0</text>
<text x="873.80" y="450.05" font-size="10.5" fill="#262626" text-anchor="end">5</text>
<text x="873.80" y="421.60" font-size="10.5" fill="#262626" text-anchor="end">10</text>
<text x="1038.90" y="568.40" font-size="11.5" fill="#262626" text-anchor="middle">spx2vix Price Relative</text>
<text transform="translate(852.90,468.25) rotate(-90)" font-size="11.5" fill="#262626" text-anchor="middle">spx evar</text>
<path d="M878.90,537.40 C879.55,536.58 881.33,535.12 882.80,532.50 C884.27,529.88 885.90,525.78 887.70,521.70 C889.50,517.62 891.47,513.23 893.60,508.00 C895.73,502.77 898.03,496.03 900.50,490.30 C902.97,484.57 905.78,478.35 908.40,473.60 C911.02,468.85 913.58,464.75 916.20,461.80 C918.82,458.85 921.32,457.53 924.10,455.90 C926.88,454.27 930.12,453.32 932.90,452.00 C935.68,450.68 938.17,449.32 940.80,448.00 C943.43,446.68 946.08,445.47 948.70,444.10 C951.32,442.73 953.88,441.22 956.50,439.80 C959.12,438.38 961.78,436.68 964.40,435.60 C967.02,434.52 969.75,433.30 972.20,433.30 C974.65,433.30 976.80,434.30 979.10,435.60 C981.40,436.90 983.53,439.20 986.00,441.10 C988.47,443.00 991.28,445.58 993.90,447.00 C996.52,448.42 999.08,449.27 1001.70,449.60 C1004.32,449.93 1006.98,449.75 1009.60,449.00 C1012.22,448.25 1014.45,446.90 1017.40,445.10 C1020.35,443.30 1024.35,440.67 1027.30,438.20 C1030.25,435.73 1032.03,433.08 1035.10,430.30 C1038.17,427.52 1042.62,424.28 1045.70,421.50 C1048.78,418.72 1050.98,415.47 1053.60,413.60 C1056.22,411.73 1058.78,410.47 1061.40,410.30 C1064.02,410.13 1066.67,411.45 1069.30,412.60 C1071.93,413.75 1074.58,415.95 1077.20,417.20 C1079.82,418.45 1082.38,419.12 1085.00,420.10 C1087.62,421.08 1090.27,421.72 1092.90,423.10 C1095.53,424.48 1098.18,426.53 1100.80,428.40 C1103.42,430.27 1105.98,432.50 1108.60,434.30 C1111.22,436.10 1113.55,438.17 1116.50,439.20 C1119.45,440.23 1123.03,440.33 1126.30,440.50 C1129.57,440.67 1132.82,440.35 1136.10,440.20 C1139.38,440.05 1142.72,439.93 1146.00,439.60 C1149.28,439.27 1152.53,438.77 1155.80,438.20 C1159.07,437.63 1162.33,437.52 1165.60,436.20 C1168.87,434.88 1172.45,433.08 1175.40,430.30 C1178.35,427.52 1180.67,423.43 1183.30,419.50 C1185.93,415.57 1188.58,409.97 1191.20,406.70 C1193.82,403.43 1197.70,401.03 1199.00,399.90" fill="none" stroke="#0072BD" stroke-width="2.5" stroke-linejoin="round" stroke-linecap="round"/>
<text x="1038.90" y="393.70" font-size="11.5" font-weight="bold" fill="#000" text-anchor="middle">spx evar vs price relative to vix</text>
<path d="M34.65,591.70 V730.80 H355.70" fill="none" stroke="#262626" stroke-width="1.2"/>
<path d="M76.10,730.80 v-3.5 M140.10,730.80 v-3.5 M204.10,730.80 v-3.5 M268.10,730.80 v-3.5 M332.10,730.80 v-3.5 M34.65,715.40 h3.5 M34.65,675.97 h3.5 M34.65,636.53 h3.5 M34.65,597.10 h3.5 " stroke="#262626" stroke-width="1.1"/>
<text x="76.10" y="746.10" font-size="10.5" fill="#262626" text-anchor="middle">0.3</text>
<text x="140.10" y="746.10" font-size="10.5" fill="#262626" text-anchor="middle">0.35</text>
<text x="204.10" y="746.10" font-size="10.5" fill="#262626" text-anchor="middle">0.4</text>
<text x="268.10" y="746.10" font-size="10.5" fill="#262626" text-anchor="middle">0.45</text>
<text x="332.10" y="746.10" font-size="10.5" fill="#262626" text-anchor="middle">0.5</text>
<text x="30.15" y="720.50" font-size="10.5" fill="#262626" text-anchor="end">-20</text>
<text x="30.15" y="681.07" font-size="10.5" fill="#262626" text-anchor="end">-10</text>
<text x="30.15" y="641.63" font-size="10.5" fill="#262626" text-anchor="end">0</text>
<text x="30.15" y="602.20" font-size="10.5" fill="#262626" text-anchor="end">10</text>
<text x="195.17" y="761.20" font-size="11.5" fill="#262626" text-anchor="middle">xlf2jpm Price Relative</text>
<text transform="translate(9.25,661.25) rotate(-90)" font-size="11.5" fill="#262626" text-anchor="middle">xlf evar</text>
<path d="M34.30,679.40 C34.46,678.03 35.54,668.65 35.90,665.70 C36.26,662.75 37.41,652.70 37.90,649.90 C38.39,647.10 40.21,639.07 40.80,637.70 C41.39,636.33 43.21,636.75 43.80,636.20 C44.39,635.65 46.01,633.03 46.70,632.20 C47.39,631.37 50.01,627.70 50.70,627.90 C51.39,628.10 52.97,632.78 53.60,634.20 C54.23,635.62 56.37,642.30 57.00,642.10 C57.63,641.90 59.29,635.20 59.90,632.20 C60.51,629.20 62.45,614.03 63.10,612.10 C63.75,610.17 65.74,612.11 66.40,612.90 C67.06,613.69 69.01,619.54 69.70,620.00 C70.39,620.46 72.59,618.44 73.30,617.50 C74.01,616.56 76.17,612.28 76.80,610.60 C77.43,608.92 79.07,602.51 79.60,600.70 C80.13,598.89 81.55,592.50 82.10,592.50 C82.65,592.50 84.45,598.30 85.10,600.70 C85.75,603.10 87.91,614.53 88.60,616.50 C89.29,618.47 91.33,619.77 92.00,620.40 C92.67,621.03 94.61,623.09 95.30,622.80 C95.99,622.51 98.25,619.12 98.90,617.50 C99.55,615.88 101.21,608.87 101.80,606.60 C102.39,604.33 104.11,596.02 104.80,594.80 C105.49,593.58 108.02,593.41 108.70,594.40 C109.38,595.39 110.97,601.90 111.60,604.70 C112.23,607.50 114.37,618.47 115.00,622.40 C115.63,626.33 117.31,639.91 117.90,644.00 C118.49,648.09 120.29,662.51 120.90,663.30 C121.51,664.09 123.41,655.80 124.00,651.90 C124.59,648.00 126.36,628.04 126.80,624.30 C127.24,620.56 128.05,615.68 128.40,614.50 C128.75,613.32 129.81,610.14 130.30,612.50 C130.79,614.86 132.67,633.81 133.30,638.10 C133.93,642.39 135.81,653.23 136.60,655.40 C137.39,657.57 140.35,658.58 141.20,659.80 C142.05,661.02 144.42,666.03 145.10,667.60 C145.78,669.17 147.43,673.92 148.00,675.50 C148.57,677.08 150.22,681.04 150.80,683.40 C151.38,685.76 153.27,696.70 153.80,699.10 C154.33,701.50 155.55,707.20 156.10,707.40 C156.65,707.60 158.71,703.11 159.30,701.10 C159.89,699.09 161.41,689.86 162.00,687.30 C162.59,684.74 164.45,677.31 165.20,675.50 C165.95,673.69 168.09,669.95 169.50,669.20 C170.91,668.45 177.33,668.12 179.30,668.00 C181.27,667.88 187.62,667.88 189.20,668.00 C190.78,668.12 194.12,668.45 195.10,669.20 C196.08,669.95 198.31,673.69 199.00,675.50 C199.69,677.31 201.45,684.74 202.00,687.30 C202.55,689.86 203.97,699.17 204.50,701.10 C205.03,703.03 206.71,707.19 207.30,706.60 C207.89,706.01 209.75,697.92 210.40,695.20 C211.05,692.48 213.17,681.57 213.80,679.40 C214.43,677.23 216.11,673.60 216.70,673.50 C217.29,673.40 219.11,676.43 219.70,678.40 C220.29,680.37 221.95,690.24 222.60,693.20 C223.25,696.16 225.51,706.43 226.20,708.00 C226.89,709.57 228.83,709.16 229.50,708.90 C230.17,708.64 232.21,705.40 232.90,705.40 C233.59,705.40 235.75,708.55 236.40,708.90 C237.05,709.25 238.81,709.68 239.40,708.90 C239.99,708.12 241.66,702.04 242.30,701.10 C242.94,700.16 245.11,698.91 245.80,699.50 C246.49,700.09 248.55,706.32 249.20,707.00 C249.85,707.68 251.64,707.78 252.30,706.30 C252.96,704.82 255.15,694.79 255.80,692.20 C256.45,689.61 258.15,681.28 258.80,680.40 C259.45,679.52 261.71,681.92 262.30,683.40 C262.89,684.88 264.17,692.25 264.70,695.20 C265.23,698.15 266.97,709.95 267.60,712.90 C268.23,715.85 270.21,722.97 271.00,724.70 C271.79,726.43 274.56,730.10 275.50,730.20 C276.44,730.30 279.52,727.43 280.40,725.70 C281.28,723.97 283.61,715.26 284.30,712.90 C284.99,710.54 286.67,703.09 287.30,702.10 C287.93,701.11 289.95,702.36 290.60,703.00 C291.25,703.64 293.15,708.59 293.80,708.50 C294.45,708.41 296.47,704.22 297.10,702.10 C297.73,699.98 299.45,689.96 300.10,687.30 C300.75,684.64 302.91,676.48 303.60,675.50 C304.29,674.52 306.37,676.12 307.00,677.50 C307.63,678.88 309.25,686.79 309.90,689.30 C310.55,691.81 312.87,701.38 313.50,702.60 C314.13,703.82 315.57,702.83 316.20,701.50 C316.83,700.17 319.05,691.70 319.80,689.30 C320.55,686.90 322.92,679.37 323.70,677.50 C324.48,675.63 326.72,671.49 327.60,670.60 C328.48,669.71 330.92,668.84 332.50,668.60 C334.08,668.36 341.17,668.24 343.40,668.20 C345.63,668.16 353.66,668.20 354.80,668.20" fill="none" stroke="#0072BD" stroke-width="2.5" stroke-linejoin="round" stroke-linecap="round"/>
<text x="195.17" y="586.90" font-size="11.5" font-weight="bold" fill="#000" text-anchor="middle">xlf evar vs price relative to jpm</text>
<path d="M456.60,591.70 V730.80 H777.00" fill="none" stroke="#262626" stroke-width="1.2"/>
<path d="M491.10,730.80 v-3.5 M527.09,730.80 v-3.5 M563.07,730.80 v-3.5 M599.06,730.80 v-3.5 M635.04,730.80 v-3.5 M671.03,730.80 v-3.5 M707.01,730.80 v-3.5 M743.00,730.80 v-3.5 M456.60,715.60 h3.5 M456.60,674.10 h3.5 M456.60,632.60 h3.5 " stroke="#262626" stroke-width="1.1"/>
<text x="491.10" y="746.10" font-size="10.5" fill="#262626" text-anchor="middle">5</text>
<text x="527.09" y="746.10" font-size="10.5" fill="#262626" text-anchor="middle">10</text>
<text x="563.07" y="746.10" font-size="10.5" fill="#262626" text-anchor="middle">15</text>
<text x="599.06" y="746.10" font-size="10.5" fill="#262626" text-anchor="middle">20</text>
<text x="635.04" y="746.10" font-size="10.5" fill="#262626" text-anchor="middle">25</text>
<text x="671.03" y="746.10" font-size="10.5" fill="#262626" text-anchor="middle">30</text>
<text x="707.01" y="746.10" font-size="10.5" fill="#262626" text-anchor="middle">35</text>
<text x="743.00" y="746.10" font-size="10.5" fill="#262626" text-anchor="middle">40</text>
<text x="452.10" y="720.70" font-size="10.5" fill="#262626" text-anchor="end">0</text>
<text x="452.10" y="679.20" font-size="10.5" fill="#262626" text-anchor="end">50</text>
<text x="452.10" y="637.70" font-size="10.5" fill="#262626" text-anchor="end">100</text>
<text x="616.80" y="761.20" font-size="11.5" fill="#262626" text-anchor="middle">bitcoin2gold Price Relative</text>
<text transform="translate(428.86,661.25) rotate(-90)" font-size="11.5" fill="#262626" text-anchor="middle">bitcoin evar</text>
<path d="M456.90,658.80 C457.00,656.34 457.67,639.61 457.90,634.20 C458.13,628.79 458.91,607.46 459.20,604.70 C459.49,601.94 460.44,605.62 460.80,606.60 C461.16,607.58 462.31,613.55 462.80,614.50 C463.29,615.45 465.11,617.97 465.70,616.10 C466.29,614.23 468.01,598.16 468.70,595.80 C469.39,593.44 471.91,591.61 472.60,592.50 C473.29,593.39 474.91,601.71 475.60,604.70 C476.29,607.69 478.81,619.65 479.50,622.40 C480.19,625.15 481.81,630.63 482.50,632.20 C483.19,633.77 485.62,637.08 486.40,638.10 C487.18,639.12 489.57,642.10 490.30,642.40 C491.03,642.70 493.01,641.49 493.70,641.10 C494.39,640.71 496.49,638.40 497.20,638.50 C497.91,638.60 500.01,641.49 500.80,642.10 C501.59,642.71 504.28,644.25 505.10,644.60 C505.92,644.95 508.25,645.07 509.00,645.60 C509.75,646.13 511.81,648.48 512.60,649.90 C513.39,651.32 516.12,659.01 516.90,659.80 C517.68,660.59 519.71,658.59 520.40,657.80 C521.09,657.01 523.13,652.20 523.80,651.90 C524.47,651.60 526.51,653.23 527.10,654.80 C527.69,656.37 529.15,664.94 529.70,667.60 C530.25,670.26 531.91,679.04 532.60,681.40 C533.29,683.76 535.81,689.96 536.60,691.20 C537.39,692.44 539.72,693.60 540.50,693.80 C541.28,694.00 543.42,693.65 544.40,693.20 C545.38,692.75 549.12,690.09 550.30,689.30 C551.48,688.51 554.96,686.11 556.20,685.30 C557.44,684.49 561.74,681.39 562.70,681.20 C563.66,681.01 565.19,682.79 565.80,683.40 C566.41,684.01 568.11,686.52 568.80,687.30 C569.49,688.08 571.92,690.96 572.70,691.20 C573.48,691.44 575.81,690.05 576.60,689.70 C577.39,689.35 579.81,687.84 580.60,687.70 C581.39,687.56 583.72,687.95 584.50,688.30 C585.28,688.65 587.61,690.81 588.40,691.20 C589.19,691.59 591.51,692.04 592.40,692.20 C593.29,692.36 596.52,692.01 597.30,692.80 C598.08,693.59 599.51,698.58 600.20,700.10 C600.89,701.62 603.41,706.92 604.20,708.00 C604.99,709.08 607.41,710.31 608.10,710.90 C608.79,711.49 610.51,712.82 611.10,713.90 C611.69,714.98 613.41,720.43 614.00,721.70 C614.59,722.97 616.41,726.30 617.00,726.60 C617.59,726.90 619.31,726.47 619.90,724.70 C620.49,722.93 622.31,712.15 622.90,708.90 C623.49,705.65 625.15,694.56 625.80,692.20 C626.45,689.84 628.71,685.49 629.40,685.30 C630.09,685.11 631.98,689.02 632.70,690.30 C633.42,691.58 635.81,697.06 636.60,698.10 C637.39,699.14 639.75,700.40 640.60,700.70 C641.45,701.00 644.32,701.55 645.10,701.10 C645.88,700.65 647.73,697.28 648.40,696.20 C649.07,695.12 651.15,690.70 651.80,690.30 C652.45,689.90 654.25,690.73 654.90,692.20 C655.55,693.67 657.63,702.34 658.30,705.00 C658.97,707.66 660.95,716.73 661.60,718.80 C662.25,720.87 664.14,724.93 664.80,725.70 C665.46,726.47 667.60,727.49 668.20,726.50 C668.80,725.51 670.24,718.15 670.80,715.80 C671.36,713.45 673.15,704.67 673.80,703.00 C674.45,701.33 676.61,699.33 677.30,699.10 C677.99,698.87 680.03,701.19 680.70,700.70 C681.37,700.21 683.36,696.33 684.00,694.20 C684.64,692.07 686.49,681.70 687.10,679.40 C687.71,677.10 689.47,671.69 690.10,671.20 C690.73,670.71 692.77,673.09 693.40,674.50 C694.03,675.91 695.81,682.64 696.40,685.30 C696.99,687.96 698.71,697.75 699.30,701.10 C699.89,704.45 701.67,716.09 702.30,718.80 C702.93,721.51 704.95,728.40 705.60,728.20 C706.25,728.00 708.15,718.67 708.80,716.80 C709.45,714.93 711.41,710.33 712.10,709.50 C712.79,708.67 715.05,709.15 715.70,708.50 C716.35,707.85 717.97,704.73 718.60,703.00 C719.23,701.27 721.33,692.67 722.00,691.20 C722.67,689.73 724.65,687.31 725.30,688.30 C725.95,689.29 727.85,698.48 728.50,701.10 C729.15,703.72 731.13,712.38 731.80,714.50 C732.47,716.62 734.55,721.68 735.20,722.30 C735.85,722.92 737.66,721.29 738.30,720.70 C738.94,720.11 740.93,716.83 741.60,716.40 C742.27,715.97 744.31,715.77 745.00,716.40 C745.69,717.03 747.75,721.38 748.50,722.70 C749.25,724.02 751.81,728.91 752.50,729.60 C753.19,730.29 754.81,729.93 755.40,729.60 C755.99,729.27 757.71,727.78 758.40,726.30 C759.09,724.82 761.52,716.10 762.30,714.80 C763.08,713.50 765.41,713.00 766.20,713.30 C766.99,713.60 769.45,717.19 770.20,717.80 C770.95,718.41 773.01,719.50 773.70,719.40 C774.39,719.30 776.76,717.06 777.10,716.80" fill="none" stroke="#0072BD" stroke-width="2.5" stroke-linejoin="round" stroke-linecap="round"/>
<text x="616.80" y="586.90" font-size="11.5" font-weight="bold" fill="#000" text-anchor="middle">bitcoin evar vs price relative to gold</text>
<path d="M878.30,591.70 V730.80 H1199.50" fill="none" stroke="#262626" stroke-width="1.2"/>
<path d="M901.50,730.80 v-3.5 M949.00,730.80 v-3.5 M996.50,730.80 v-3.5 M1044.00,730.80 v-3.5 M1091.50,730.80 v-3.5 M1139.00,730.80 v-3.5 M1186.50,730.80 v-3.5 M878.30,708.10 h3.5 M878.30,678.63 h3.5 M878.30,649.17 h3.5 M878.30,619.70 h3.5 " stroke="#262626" stroke-width="1.1"/>
<text x="901.50" y="746.10" font-size="10.5" fill="#262626" text-anchor="middle">0.01</text>
<text x="949.00" y="746.10" font-size="10.5" fill="#262626" text-anchor="middle">0.02</text>
<text x="996.50" y="746.10" font-size="10.5" fill="#262626" text-anchor="middle">0.03</text>
<text x="1044.00" y="746.10" font-size="10.5" fill="#262626" text-anchor="middle">0.04</text>
<text x="1091.50" y="746.10" font-size="10.5" fill="#262626" text-anchor="middle">0.05</text>
<text x="1139.00" y="746.10" font-size="10.5" fill="#262626" text-anchor="middle">0.06</text>
<text x="1186.50" y="746.10" font-size="10.5" fill="#262626" text-anchor="middle">0.07</text>
<text x="873.80" y="713.20" font-size="10.5" fill="#262626" text-anchor="end">0</text>
<text x="873.80" y="683.73" font-size="10.5" fill="#262626" text-anchor="end">20</text>
<text x="873.80" y="654.27" font-size="10.5" fill="#262626" text-anchor="end">40</text>
<text x="873.80" y="624.80" font-size="10.5" fill="#262626" text-anchor="end">60</text>
<text x="1038.90" y="761.20" font-size="11.5" fill="#262626" text-anchor="middle">vix2spx Price Relative</text>
<text transform="translate(856.40,661.25) rotate(-90)" font-size="11.5" fill="#262626" text-anchor="middle">vix evar</text>
<path d="M878.50,730.60 C878.74,728.24 880.47,710.54 880.90,707.00 C881.33,703.46 882.41,697.46 882.80,695.20 C883.19,692.94 884.31,686.02 884.80,684.40 C885.29,682.78 887.01,679.20 887.70,679.00 C888.39,678.80 890.95,681.92 891.70,682.40 C892.45,682.88 894.51,683.70 895.20,683.80 C895.89,683.90 897.97,683.05 898.60,683.40 C899.23,683.75 900.91,686.12 901.50,687.30 C902.09,688.48 903.91,693.72 904.50,695.20 C905.09,696.68 906.81,701.41 907.40,702.10 C907.99,702.79 909.71,702.79 910.40,702.10 C911.09,701.41 913.52,696.38 914.30,695.20 C915.08,694.02 917.31,691.09 918.20,690.30 C919.09,689.51 922.31,687.99 923.20,687.30 C924.09,686.61 926.36,684.38 927.10,683.40 C927.84,682.42 929.91,678.49 930.60,677.50 C931.29,676.51 933.27,673.86 934.00,673.50 C934.73,673.14 937.21,673.74 937.90,673.90 C938.59,674.06 940.31,675.43 940.90,675.10 C941.49,674.77 943.21,671.64 943.80,670.60 C944.39,669.56 946.21,665.94 946.80,664.70 C947.39,663.46 949.15,659.32 949.70,658.20 C950.25,657.08 951.71,653.89 952.30,653.50 C952.89,653.11 954.97,653.58 955.60,654.30 C956.23,655.02 957.95,659.60 958.60,660.70 C959.25,661.80 961.47,665.10 962.10,665.30 C962.73,665.50 964.27,663.69 964.90,662.70 C965.53,661.71 967.66,656.64 968.40,655.40 C969.14,654.16 971.51,650.75 972.30,650.30 C973.09,649.85 975.49,650.61 976.30,650.90 C977.11,651.19 979.64,653.30 980.40,653.20 C981.16,653.10 983.05,650.82 983.90,649.90 C984.75,648.98 988.01,644.43 988.90,644.00 C989.79,643.57 991.96,645.17 992.80,645.60 C993.64,646.03 996.42,648.62 997.30,648.30 C998.18,647.98 1000.67,643.52 1001.60,642.40 C1002.53,641.28 1005.51,637.57 1006.60,637.10 C1007.69,636.63 1011.52,638.48 1012.50,637.70 C1013.48,636.92 1015.62,630.83 1016.40,629.30 C1017.18,627.77 1019.61,623.19 1020.30,622.40 C1020.99,621.61 1022.61,621.11 1023.30,621.40 C1023.99,621.69 1026.32,624.51 1027.20,625.30 C1028.08,626.09 1031.11,629.20 1032.10,629.30 C1033.09,629.40 1036.21,627.39 1037.10,626.30 C1037.99,625.21 1040.18,619.78 1041.00,618.40 C1041.82,617.02 1044.51,612.69 1045.30,612.50 C1046.09,612.31 1048.19,615.41 1048.90,616.50 C1049.61,617.59 1051.76,622.46 1052.40,623.40 C1053.04,624.34 1054.67,626.20 1055.30,625.90 C1055.93,625.60 1058.01,621.54 1058.70,620.40 C1059.39,619.26 1061.57,615.05 1062.20,614.50 C1062.83,613.95 1064.37,614.01 1065.00,614.90 C1065.63,615.79 1067.66,621.83 1068.50,623.40 C1069.34,624.97 1072.51,630.41 1073.40,630.60 C1074.29,630.79 1076.71,626.71 1077.40,625.30 C1078.09,623.89 1079.65,618.01 1080.30,616.50 C1080.95,614.99 1083.18,610.77 1083.90,610.20 C1084.62,609.63 1086.64,610.18 1087.50,610.80 C1088.36,611.42 1091.47,615.38 1092.50,616.40 C1093.53,617.42 1096.78,620.31 1097.80,621.00 C1098.82,621.69 1101.82,623.56 1102.70,623.30 C1103.58,623.04 1105.81,619.87 1106.60,618.40 C1107.39,616.93 1109.81,610.21 1110.60,608.60 C1111.39,606.99 1113.72,602.60 1114.50,602.30 C1115.28,602.00 1117.61,604.48 1118.40,605.60 C1119.19,606.72 1121.61,612.22 1122.40,613.50 C1123.19,614.78 1125.52,618.01 1126.30,618.40 C1127.08,618.79 1129.32,617.99 1130.20,617.40 C1131.08,616.81 1134.12,613.58 1135.10,612.50 C1136.08,611.42 1139.11,607.44 1140.00,606.60 C1140.89,605.76 1143.21,604.14 1144.00,604.10 C1144.79,604.06 1147.02,605.65 1147.90,606.20 C1148.78,606.75 1151.91,609.60 1152.80,609.60 C1153.69,609.60 1156.01,606.99 1156.80,606.20 C1157.59,605.41 1159.92,602.09 1160.70,601.70 C1161.48,601.31 1163.85,601.77 1164.60,602.30 C1165.35,602.83 1167.51,606.37 1168.20,607.00 C1168.89,607.63 1170.78,608.93 1171.50,608.60 C1172.22,608.27 1174.61,604.98 1175.40,603.70 C1176.19,602.42 1178.61,596.92 1179.40,595.80 C1180.19,594.68 1182.52,592.60 1183.30,592.50 C1184.08,592.40 1186.41,593.88 1187.20,594.80 C1187.99,595.72 1190.51,600.22 1191.20,601.70 C1191.89,603.18 1193.48,608.28 1194.10,609.60 C1194.72,610.92 1196.81,614.31 1197.40,614.90 C1197.99,615.49 1199.74,615.44 1200.00,615.50" fill="none" stroke="#0072BD" stroke-width="2.5" stroke-linejoin="round" stroke-linecap="round"/>
<text x="1038.90" y="586.90" font-size="11.5" font-weight="bold" fill="#000" text-anchor="middle">vix evar vs price relative to spx</text>
</svg></body></html>
